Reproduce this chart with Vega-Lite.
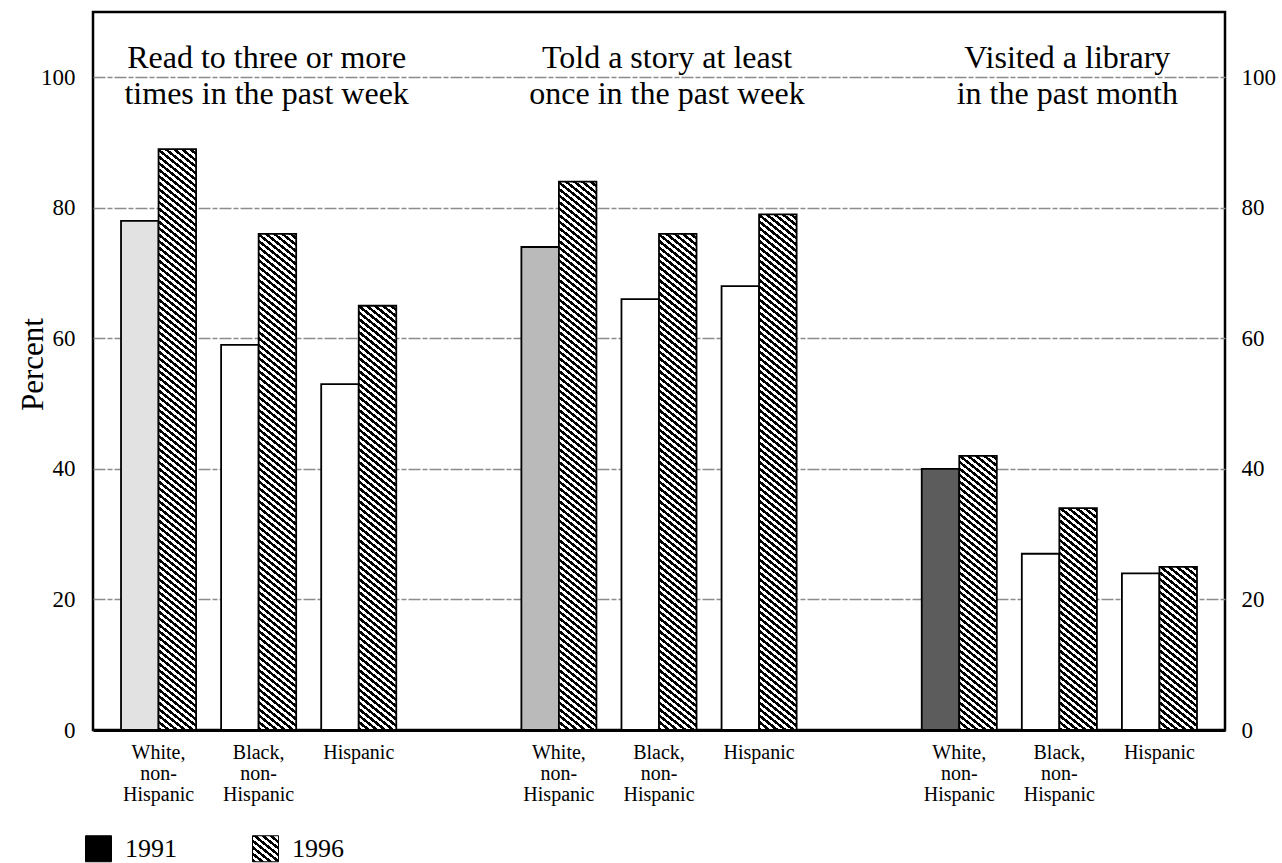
{
  "$schema": "https://vega.github.io/schema/vega-lite/v6.json",
  "width": 1132,
  "height": 718,
  "autosize": {"type": "none"},
  "padding": {"left": 93, "top": 12, "right": 57, "bottom": 133},
  "background": "#ffffff",
  "config": {
    "font": "Liberation Serif",
    "view": {"stroke": "#000000", "strokeWidth": 2.5},
    "axis": {"labelColor": "#000000", "titleColor": "#000000", "labelFont": "Liberation Serif", "titleFont": "Liberation Serif", "titleFontWeight": "normal"},
    "legend": {"labelFont": "Liberation Serif", "labelColor": "#000000"}
  },
  "params": [
    {"name": "hatch", "expr": "[{offset:0,color:'#000'},{offset:1/192,color:'#000'},{offset:1/192,color:'#fff'},{offset:2/192,color:'#fff'},{offset:2/192,color:'#000'},{offset:3/192,color:'#000'},{offset:3/192,color:'#fff'},{offset:4/192,color:'#fff'},{offset:4/192,color:'#000'},{offset:5/192,color:'#000'},{offset:5/192,color:'#fff'},{offset:6/192,color:'#fff'},{offset:6/192,color:'#000'},{offset:7/192,color:'#000'},{offset:7/192,color:'#fff'},{offset:8/192,color:'#fff'},{offset:8/192,color:'#000'},{offset:9/192,color:'#000'},{offset:9/192,color:'#fff'},{offset:10/192,color:'#fff'},{offset:10/192,color:'#000'},{offset:11/192,color:'#000'},{offset:11/192,color:'#fff'},{offset:12/192,color:'#fff'},{offset:12/192,color:'#000'},{offset:13/192,color:'#000'},{offset:13/192,color:'#fff'},{offset:14/192,color:'#fff'},{offset:14/192,color:'#000'},{offset:15/192,color:'#000'},{offset:15/192,color:'#fff'},{offset:16/192,color:'#fff'},{offset:16/192,color:'#000'},{offset:17/192,color:'#000'},{offset:17/192,color:'#fff'},{offset:18/192,color:'#fff'},{offset:18/192,color:'#000'},{offset:19/192,color:'#000'},{offset:19/192,color:'#fff'},{offset:20/192,color:'#fff'},{offset:20/192,color:'#000'},{offset:21/192,color:'#000'},{offset:21/192,color:'#fff'},{offset:22/192,color:'#fff'},{offset:22/192,color:'#000'},{offset:23/192,color:'#000'},{offset:23/192,color:'#fff'},{offset:24/192,color:'#fff'},{offset:24/192,color:'#000'},{offset:25/192,color:'#000'},{offset:25/192,color:'#fff'},{offset:26/192,color:'#fff'},{offset:26/192,color:'#000'},{offset:27/192,color:'#000'},{offset:27/192,color:'#fff'},{offset:28/192,color:'#fff'},{offset:28/192,color:'#000'},{offset:29/192,color:'#000'},{offset:29/192,color:'#fff'},{offset:30/192,color:'#fff'},{offset:30/192,color:'#000'},{offset:31/192,color:'#000'},{offset:31/192,color:'#fff'},{offset:32/192,color:'#fff'},{offset:32/192,color:'#000'},{offset:33/192,color:'#000'},{offset:33/192,color:'#fff'},{offset:34/192,color:'#fff'},{offset:34/192,color:'#000'},{offset:35/192,color:'#000'},{offset:35/192,color:'#fff'},{offset:36/192,color:'#fff'},{offset:36/192,color:'#000'},{offset:37/192,color:'#000'},{offset:37/192,color:'#fff'},{offset:38/192,color:'#fff'},{offset:38/192,color:'#000'},{offset:39/192,color:'#000'},{offset:39/192,color:'#fff'},{offset:40/192,color:'#fff'},{offset:40/192,color:'#000'},{offset:41/192,color:'#000'},{offset:41/192,color:'#fff'},{offset:42/192,color:'#fff'},{offset:42/192,color:'#000'},{offset:43/192,color:'#000'},{offset:43/192,color:'#fff'},{offset:44/192,color:'#fff'},{offset:44/192,color:'#000'},{offset:45/192,color:'#000'},{offset:45/192,color:'#fff'},{offset:46/192,color:'#fff'},{offset:46/192,color:'#000'},{offset:47/192,color:'#000'},{offset:47/192,color:'#fff'},{offset:48/192,color:'#fff'},{offset:48/192,color:'#000'},{offset:49/192,color:'#000'},{offset:49/192,color:'#fff'},{offset:50/192,color:'#fff'},{offset:50/192,color:'#000'},{offset:51/192,color:'#000'},{offset:51/192,color:'#fff'},{offset:52/192,color:'#fff'},{offset:52/192,color:'#000'},{offset:53/192,color:'#000'},{offset:53/192,color:'#fff'},{offset:54/192,color:'#fff'},{offset:54/192,color:'#000'},{offset:55/192,color:'#000'},{offset:55/192,color:'#fff'},{offset:56/192,color:'#fff'},{offset:56/192,color:'#000'},{offset:57/192,color:'#000'},{offset:57/192,color:'#fff'},{offset:58/192,color:'#fff'},{offset:58/192,color:'#000'},{offset:59/192,color:'#000'},{offset:59/192,color:'#fff'},{offset:60/192,color:'#fff'},{offset:60/192,color:'#000'},{offset:61/192,color:'#000'},{offset:61/192,color:'#fff'},{offset:62/192,color:'#fff'},{offset:62/192,color:'#000'},{offset:63/192,color:'#000'},{offset:63/192,color:'#fff'},{offset:64/192,color:'#fff'},{offset:64/192,color:'#000'},{offset:65/192,color:'#000'},{offset:65/192,color:'#fff'},{offset:66/192,color:'#fff'},{offset:66/192,color:'#000'},{offset:67/192,color:'#000'},{offset:67/192,color:'#fff'},{offset:68/192,color:'#fff'},{offset:68/192,color:'#000'},{offset:69/192,color:'#000'},{offset:69/192,color:'#fff'},{offset:70/192,color:'#fff'},{offset:70/192,color:'#000'},{offset:71/192,color:'#000'},{offset:71/192,color:'#fff'},{offset:72/192,color:'#fff'},{offset:72/192,color:'#000'},{offset:73/192,color:'#000'},{offset:73/192,color:'#fff'},{offset:74/192,color:'#fff'},{offset:74/192,color:'#000'},{offset:75/192,color:'#000'},{offset:75/192,color:'#fff'},{offset:76/192,color:'#fff'},{offset:76/192,color:'#000'},{offset:77/192,color:'#000'},{offset:77/192,color:'#fff'},{offset:78/192,color:'#fff'},{offset:78/192,color:'#000'},{offset:79/192,color:'#000'},{offset:79/192,color:'#fff'},{offset:80/192,color:'#fff'},{offset:80/192,color:'#000'},{offset:81/192,color:'#000'},{offset:81/192,color:'#fff'},{offset:82/192,color:'#fff'},{offset:82/192,color:'#000'},{offset:83/192,color:'#000'},{offset:83/192,color:'#fff'},{offset:84/192,color:'#fff'},{offset:84/192,color:'#000'},{offset:85/192,color:'#000'},{offset:85/192,color:'#fff'},{offset:86/192,color:'#fff'},{offset:86/192,color:'#000'},{offset:87/192,color:'#000'},{offset:87/192,color:'#fff'},{offset:88/192,color:'#fff'},{offset:88/192,color:'#000'},{offset:89/192,color:'#000'},{offset:89/192,color:'#fff'},{offset:90/192,color:'#fff'},{offset:90/192,color:'#000'},{offset:91/192,color:'#000'},{offset:91/192,color:'#fff'},{offset:92/192,color:'#fff'},{offset:92/192,color:'#000'},{offset:93/192,color:'#000'},{offset:93/192,color:'#fff'},{offset:94/192,color:'#fff'},{offset:94/192,color:'#000'},{offset:95/192,color:'#000'},{offset:95/192,color:'#fff'},{offset:96/192,color:'#fff'},{offset:96/192,color:'#000'},{offset:97/192,color:'#000'},{offset:97/192,color:'#fff'},{offset:98/192,color:'#fff'},{offset:98/192,color:'#000'},{offset:99/192,color:'#000'},{offset:99/192,color:'#fff'},{offset:100/192,color:'#fff'},{offset:100/192,color:'#000'},{offset:101/192,color:'#000'},{offset:101/192,color:'#fff'},{offset:102/192,color:'#fff'},{offset:102/192,color:'#000'},{offset:103/192,color:'#000'},{offset:103/192,color:'#fff'},{offset:104/192,color:'#fff'},{offset:104/192,color:'#000'},{offset:105/192,color:'#000'},{offset:105/192,color:'#fff'},{offset:106/192,color:'#fff'},{offset:106/192,color:'#000'},{offset:107/192,color:'#000'},{offset:107/192,color:'#fff'},{offset:108/192,color:'#fff'},{offset:108/192,color:'#000'},{offset:109/192,color:'#000'},{offset:109/192,color:'#fff'},{offset:110/192,color:'#fff'},{offset:110/192,color:'#000'},{offset:111/192,color:'#000'},{offset:111/192,color:'#fff'},{offset:112/192,color:'#fff'},{offset:112/192,color:'#000'},{offset:113/192,color:'#000'},{offset:113/192,color:'#fff'},{offset:114/192,color:'#fff'},{offset:114/192,color:'#000'},{offset:115/192,color:'#000'},{offset:115/192,color:'#fff'},{offset:116/192,color:'#fff'},{offset:116/192,color:'#000'},{offset:117/192,color:'#000'},{offset:117/192,color:'#fff'},{offset:118/192,color:'#fff'},{offset:118/192,color:'#000'},{offset:119/192,color:'#000'},{offset:119/192,color:'#fff'},{offset:120/192,color:'#fff'},{offset:120/192,color:'#000'},{offset:121/192,color:'#000'},{offset:121/192,color:'#fff'},{offset:122/192,color:'#fff'},{offset:122/192,color:'#000'},{offset:123/192,color:'#000'},{offset:123/192,color:'#fff'},{offset:124/192,color:'#fff'},{offset:124/192,color:'#000'},{offset:125/192,color:'#000'},{offset:125/192,color:'#fff'},{offset:126/192,color:'#fff'},{offset:126/192,color:'#000'},{offset:127/192,color:'#000'},{offset:127/192,color:'#fff'},{offset:128/192,color:'#fff'},{offset:128/192,color:'#000'},{offset:129/192,color:'#000'},{offset:129/192,color:'#fff'},{offset:130/192,color:'#fff'},{offset:130/192,color:'#000'},{offset:131/192,color:'#000'},{offset:131/192,color:'#fff'},{offset:132/192,color:'#fff'},{offset:132/192,color:'#000'},{offset:133/192,color:'#000'},{offset:133/192,color:'#fff'},{offset:134/192,color:'#fff'},{offset:134/192,color:'#000'},{offset:135/192,color:'#000'},{offset:135/192,color:'#fff'},{offset:136/192,color:'#fff'},{offset:136/192,color:'#000'},{offset:137/192,color:'#000'},{offset:137/192,color:'#fff'},{offset:138/192,color:'#fff'},{offset:138/192,color:'#000'},{offset:139/192,color:'#000'},{offset:139/192,color:'#fff'},{offset:140/192,color:'#fff'},{offset:140/192,color:'#000'},{offset:141/192,color:'#000'},{offset:141/192,color:'#fff'},{offset:142/192,color:'#fff'},{offset:142/192,color:'#000'},{offset:143/192,color:'#000'},{offset:143/192,color:'#fff'},{offset:144/192,color:'#fff'},{offset:144/192,color:'#000'},{offset:145/192,color:'#000'},{offset:145/192,color:'#fff'},{offset:146/192,color:'#fff'},{offset:146/192,color:'#000'},{offset:147/192,color:'#000'},{offset:147/192,color:'#fff'},{offset:148/192,color:'#fff'},{offset:148/192,color:'#000'},{offset:149/192,color:'#000'},{offset:149/192,color:'#fff'},{offset:150/192,color:'#fff'},{offset:150/192,color:'#000'},{offset:151/192,color:'#000'},{offset:151/192,color:'#fff'},{offset:152/192,color:'#fff'},{offset:152/192,color:'#000'},{offset:153/192,color:'#000'},{offset:153/192,color:'#fff'},{offset:154/192,color:'#fff'},{offset:154/192,color:'#000'},{offset:155/192,color:'#000'},{offset:155/192,color:'#fff'},{offset:156/192,color:'#fff'},{offset:156/192,color:'#000'},{offset:157/192,color:'#000'},{offset:157/192,color:'#fff'},{offset:158/192,color:'#fff'},{offset:158/192,color:'#000'},{offset:159/192,color:'#000'},{offset:159/192,color:'#fff'},{offset:160/192,color:'#fff'},{offset:160/192,color:'#000'},{offset:161/192,color:'#000'},{offset:161/192,color:'#fff'},{offset:162/192,color:'#fff'},{offset:162/192,color:'#000'},{offset:163/192,color:'#000'},{offset:163/192,color:'#fff'},{offset:164/192,color:'#fff'},{offset:164/192,color:'#000'},{offset:165/192,color:'#000'},{offset:165/192,color:'#fff'},{offset:166/192,color:'#fff'},{offset:166/192,color:'#000'},{offset:167/192,color:'#000'},{offset:167/192,color:'#fff'},{offset:168/192,color:'#fff'},{offset:168/192,color:'#000'},{offset:169/192,color:'#000'},{offset:169/192,color:'#fff'},{offset:170/192,color:'#fff'},{offset:170/192,color:'#000'},{offset:171/192,color:'#000'},{offset:171/192,color:'#fff'},{offset:172/192,color:'#fff'},{offset:172/192,color:'#000'},{offset:173/192,color:'#000'},{offset:173/192,color:'#fff'},{offset:174/192,color:'#fff'},{offset:174/192,color:'#000'},{offset:175/192,color:'#000'},{offset:175/192,color:'#fff'},{offset:176/192,color:'#fff'},{offset:176/192,color:'#000'},{offset:177/192,color:'#000'},{offset:177/192,color:'#fff'},{offset:178/192,color:'#fff'},{offset:178/192,color:'#000'},{offset:179/192,color:'#000'},{offset:179/192,color:'#fff'},{offset:180/192,color:'#fff'},{offset:180/192,color:'#000'},{offset:181/192,color:'#000'},{offset:181/192,color:'#fff'},{offset:182/192,color:'#fff'},{offset:182/192,color:'#000'},{offset:183/192,color:'#000'},{offset:183/192,color:'#fff'},{offset:184/192,color:'#fff'},{offset:184/192,color:'#000'},{offset:185/192,color:'#000'},{offset:185/192,color:'#fff'},{offset:186/192,color:'#fff'},{offset:186/192,color:'#000'},{offset:187/192,color:'#000'},{offset:187/192,color:'#fff'},{offset:188/192,color:'#fff'},{offset:188/192,color:'#000'},{offset:189/192,color:'#000'},{offset:189/192,color:'#fff'},{offset:190/192,color:'#fff'},{offset:190/192,color:'#000'},{offset:191/192,color:'#000'},{offset:191/192,color:'#fff'},{offset:1,color:'#fff'}]"}
  ],
  "datasets": {
    "bars": [
      {"activity": "Read", "race": "White", "slot": "Read White", "year": "1991", "value": 78},
      {"activity": "Read", "race": "White", "slot": "Read White", "year": "1996", "value": 89},
      {"activity": "Read", "race": "Black", "slot": "Read Black", "year": "1991", "value": 59},
      {"activity": "Read", "race": "Black", "slot": "Read Black", "year": "1996", "value": 76},
      {"activity": "Read", "race": "Hispanic", "slot": "Read Hispanic", "year": "1991", "value": 53},
      {"activity": "Read", "race": "Hispanic", "slot": "Read Hispanic", "year": "1996", "value": 65},
      {"activity": "Told", "race": "White", "slot": "Told White", "year": "1991", "value": 74},
      {"activity": "Told", "race": "White", "slot": "Told White", "year": "1996", "value": 84},
      {"activity": "Told", "race": "Black", "slot": "Told Black", "year": "1991", "value": 66},
      {"activity": "Told", "race": "Black", "slot": "Told Black", "year": "1996", "value": 76},
      {"activity": "Told", "race": "Hispanic", "slot": "Told Hispanic", "year": "1991", "value": 68},
      {"activity": "Told", "race": "Hispanic", "slot": "Told Hispanic", "year": "1996", "value": 79},
      {"activity": "Visit", "race": "White", "slot": "Visit White", "year": "1991", "value": 40},
      {"activity": "Visit", "race": "White", "slot": "Visit White", "year": "1996", "value": 42},
      {"activity": "Visit", "race": "Black", "slot": "Visit Black", "year": "1991", "value": 27},
      {"activity": "Visit", "race": "Black", "slot": "Visit Black", "year": "1996", "value": 34},
      {"activity": "Visit", "race": "Hispanic", "slot": "Visit Hispanic", "year": "1991", "value": 24},
      {"activity": "Visit", "race": "Hispanic", "slot": "Visit Hispanic", "year": "1996", "value": 25}
    ],
    "heads": [
      {"slot": "Read Black", "label": "Read to three or more\ntimes in the past week"},
      {"slot": "Told Black", "label": "Told a story at least\nonce in the past week"},
      {"slot": "Visit Black", "label": "Visited a library\nin the past month"}
    ]
  },
  "layer": [
    {
      "data": {"name": "bars"},
      "mark": {
        "type": "bar",
        "stroke": "#000000",
        "strokeWidth": 1.8,
        "fill": {"expr": "datum.year == '1996' ? {gradient: 'linear', x1: 0, y1: 1, x2: 624 * 0.8 * bandwidth('xOffset') / (pow(0.8 * bandwidth('xOffset'), 2) + pow(scale('y', 0) - scale('y', datum.value), 2)), y2: 1 - 624 * (scale('y', 0) - scale('y', datum.value)) / (pow(0.8 * bandwidth('xOffset'), 2) + pow(scale('y', 0) - scale('y', datum.value), 2)), stops: hatch} : (datum.race == 'White' ? (datum.activity == 'Read' ? '#e2e2e2' : (datum.activity == 'Told' ? '#bababa' : '#5c5c5c')) : '#ffffff')"}
      },
      "encoding": {
        "x": {
          "field": "slot",
          "type": "nominal",
          "sort": null,
          "scale": {
            "domain": ["Read White", "Read Black", "Read Hispanic", "gap1", "Told White", "Told Black", "Told Hispanic", "gap2", "Visit White", "Visit Black", "Visit Hispanic"],
            "paddingInner": 0.25,
            "paddingOuter": 0.28
          },
          "axis": {
            "title": null,
            "ticks": false,
            "grid": false,
            "domain": true,
            "domainColor": "#000000",
            "domainWidth": 3,
            "labelAngle": 0,
            "labelPadding": 12,
            "labelFontSize": 20,
            "labelLineHeight": 21,
            "labelBaseline": "top",
            "labelOverlap": false,
            "labelExpr": "indexof(datum.value, 'White') >= 0 ? ['White,', 'non-', 'Hispanic'] : (indexof(datum.value, 'Black') >= 0 ? ['Black,', 'non-', 'Hispanic'] : (indexof(datum.value, 'Hispanic') >= 0 ? 'Hispanic' : ''))"
          }
        },
        "xOffset": {
          "field": "year",
          "type": "nominal",
          "scale": {"domain": ["1991", "1996"], "paddingInner": 0, "paddingOuter": 0}
        },
        "y": {
          "field": "value",
          "type": "quantitative",
          "scale": {"domain": [0, 110], "nice": false, "zero": true},
          "axis": {
            "title": "Percent",
            "titleFontSize": 31,
            "titleAngle": 270,
            "titleX": -60,
            "titleY": 352,
            "titleAlign": "center",
            "titleBaseline": "middle",
            "values": [0, 20, 40, 60, 80, 100],
            "ticks": false,
            "domain": false,
            "labelPadding": 18,
            "labelFontSize": 23,
            "grid": true,
            "gridColor": "#8c8c8c",
            "gridWidth": 1.4,
            "gridDash": [12, 2, 5, 2]
          }
        }
      }
    },
    {
      "data": {"name": "heads"},
      "mark": {"type": "text", "fontSize": 32, "lineHeight": 36, "lineBreak": "\n", "baseline": "middle", "align": "center", "dx": 8, "dy": -19, "color": "#000000", "font": "Liberation Serif"},
      "encoding": {
        "x": {
          "field": "slot",
          "type": "nominal",
          "sort": null,
          "scale": {
            "domain": ["Read White", "Read Black", "Read Hispanic", "gap1", "Told White", "Told Black", "Told Hispanic", "gap2", "Visit White", "Visit Black", "Visit Hispanic"],
            "paddingInner": 0.25,
            "paddingOuter": 0.28
          }
        },
        "y": {
          "datum": 100,
          "type": "quantitative",
          "scale": {"domain": [0, 110], "nice": false, "zero": true},
          "axis": {
            "orient": "right",
            "title": null,
            "values": [0, 20, 40, 60, 80, 100],
            "ticks": false,
            "domain": false,
            "grid": false,
            "labelPadding": 16,
            "labelFontSize": 23
          }
        },
        "text": {"field": "label"}
      }
    },
    {
      "data": {"name": "bars"},
      "transform": [{"filter": "datum.value < 0"}],
      "mark": {"type": "bar", "stroke": "#000000", "strokeWidth": 1},
      "encoding": {
        "x": {
          "field": "slot",
          "type": "nominal",
          "sort": null,
          "scale": {
            "domain": ["Read White", "Read Black", "Read Hispanic", "gap1", "Told White", "Told Black", "Told Hispanic", "gap2", "Visit White", "Visit Black", "Visit Hispanic"],
            "paddingInner": 0.25,
            "paddingOuter": 0.28
          }
        },
        "y": {
          "field": "value",
          "type": "quantitative",
          "scale": {"domain": [0, 110], "nice": false, "zero": true},
          "axis": null
        },
        "fill": {
          "field": "year",
          "type": "nominal",
          "scale": {
            "domain": ["1991", "1996"],
            "range": ["#000000", {"expr": "{gradient: 'linear', x1: 0, y1: 1, x2: 11.71, y2: -13.63, stops: hatch}"}]
          },
          "legend": {
            "title": null,
            "orient": "none",
            "legendX": -8,
            "legendY": 823,
            "direction": "horizontal",
            "padding": 0,
            "symbolType": "square",
            "symbolSize": 676,
            "symbolStrokeColor": "#000000",
            "symbolStrokeWidth": 1,
            "symbolOpacity": 1,
            "labelFontSize": 26,
            "labelOffset": 13,
            "columnPadding": 73
          }
        }
      }
    }
  ],
  "resolve": {"axis": {"y": "independent"}}
}
